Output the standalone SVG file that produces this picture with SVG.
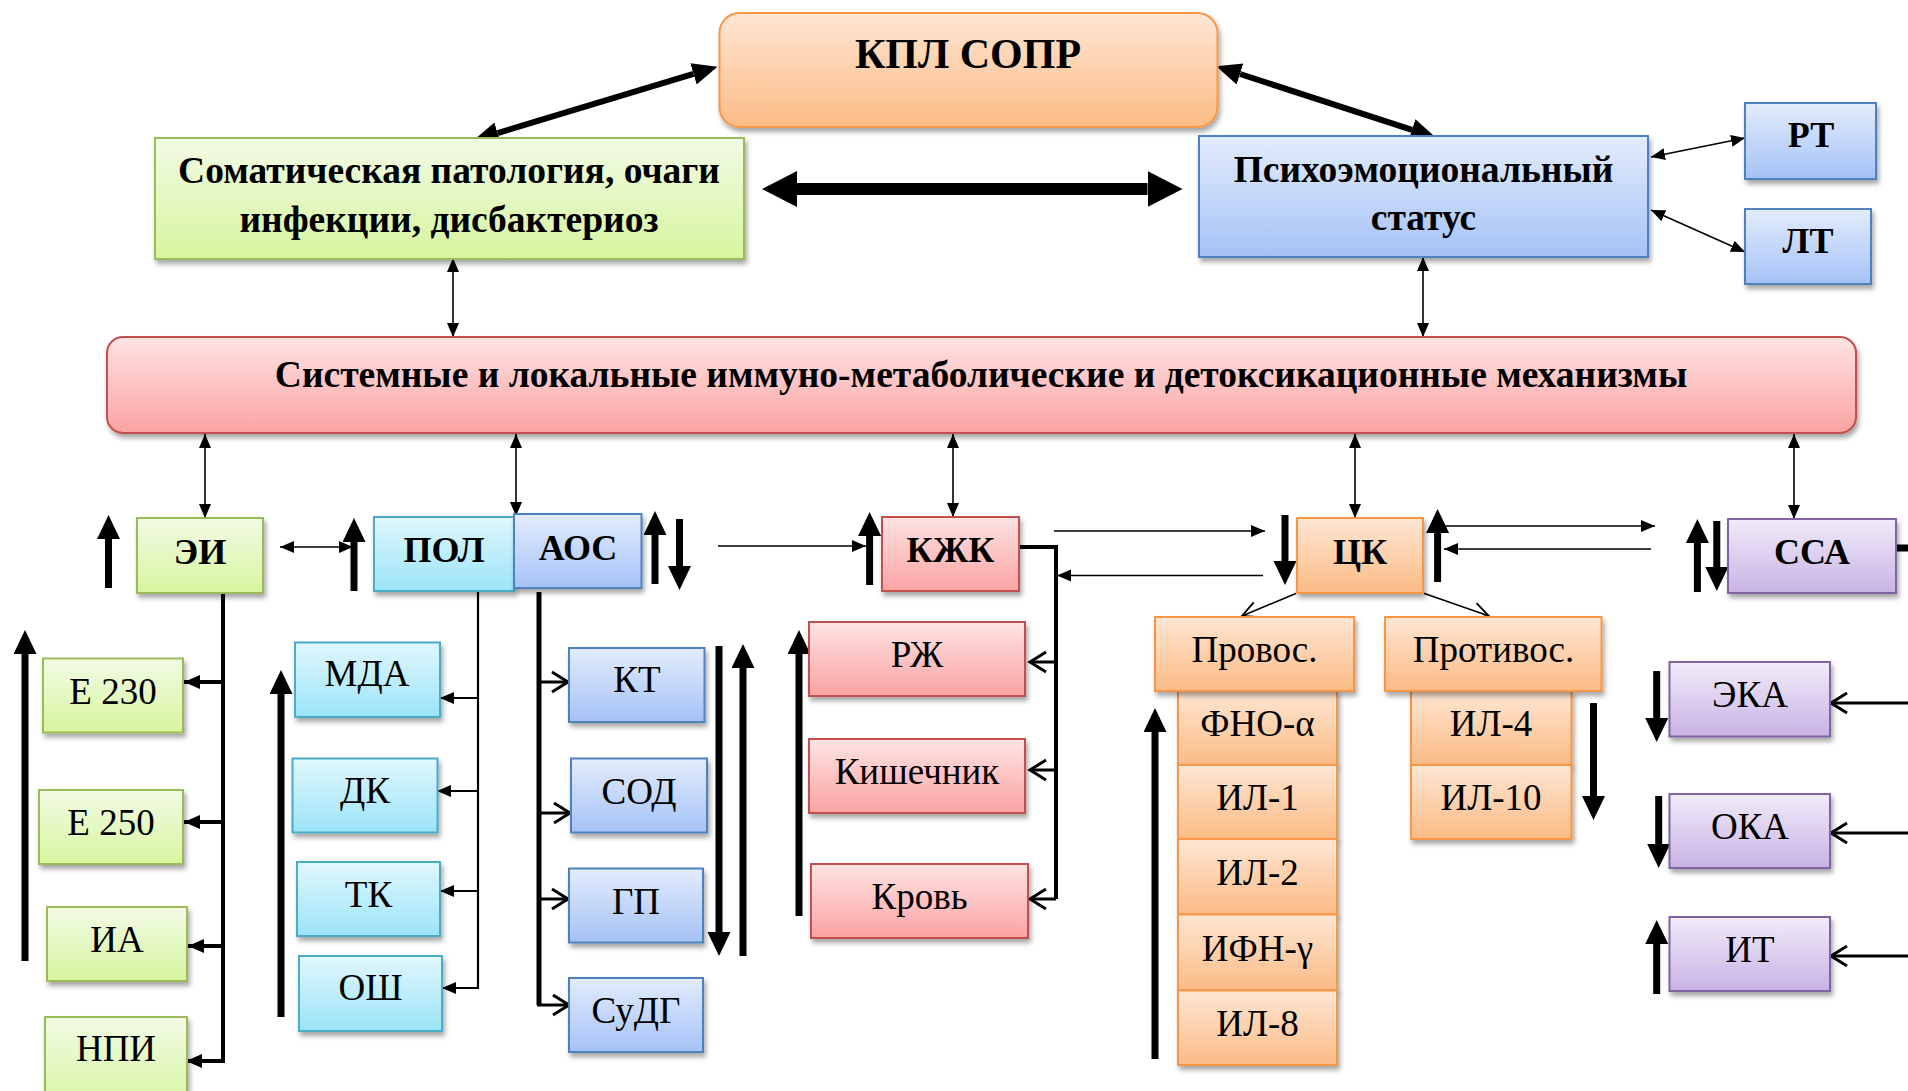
<svg xmlns="http://www.w3.org/2000/svg" width="1908" height="1091" viewBox="0 0 1908 1091">
<defs>
<linearGradient id="gOr" x1="0" y1="0" x2="0" y2="1"><stop offset="0" stop-color="#fee6d3"/><stop offset="1" stop-color="#fbbb85"/></linearGradient>
<linearGradient id="gGr" x1="0" y1="0" x2="0" y2="1"><stop offset="0" stop-color="#f2fbe5"/><stop offset="1" stop-color="#d7f59e"/></linearGradient>
<linearGradient id="gBl" x1="0" y1="0" x2="0" y2="1"><stop offset="0" stop-color="#e3ecfc"/><stop offset="1" stop-color="#a5c2f6"/></linearGradient>
<linearGradient id="gCy" x1="0" y1="0" x2="0" y2="1"><stop offset="0" stop-color="#e1f7fd"/><stop offset="1" stop-color="#9be4f8"/></linearGradient>
<linearGradient id="gRd" x1="0" y1="0" x2="0" y2="1"><stop offset="0" stop-color="#fee3e3"/><stop offset="1" stop-color="#fba3a3"/></linearGradient>
<linearGradient id="gPu" x1="0" y1="0" x2="0" y2="1"><stop offset="0" stop-color="#f1ebf9"/><stop offset="1" stop-color="#c8b3e5"/></linearGradient>
<filter id="sh" x="-10%" y="-10%" width="130%" height="140%"><feDropShadow dx="2" dy="4" stdDeviation="2.5" flood-color="#000" flood-opacity="0.35"/></filter>
<marker id="ah" markerUnits="userSpaceOnUse" markerWidth="16" markerHeight="14" refX="14" refY="6" orient="auto-start-reverse"><path d="M0,0 L14,6 L0,12 z" fill="#000"/></marker>
<marker id="ahm" markerUnits="userSpaceOnUse" markerWidth="18" markerHeight="16" refX="16" refY="7" orient="auto-start-reverse"><path d="M0,0 L16,7 L0,14 z" fill="#000"/></marker>
<marker id="chev" markerUnits="userSpaceOnUse" markerWidth="22" markerHeight="26" refX="18" refY="12" orient="auto-start-reverse"><path d="M2,2 L18,12 L2,22" fill="none" stroke="#000" stroke-width="3"/></marker>
<marker id="chevt" markerUnits="userSpaceOnUse" markerWidth="22" markerHeight="22" refX="18" refY="10" orient="auto-start-reverse"><path d="M2,2 L18,10 L2,18" fill="none" stroke="#000" stroke-width="1.8"/></marker>
<marker id="big" markerUnits="userSpaceOnUse" markerWidth="26" markerHeight="24" refX="0" refY="11.5" orient="auto-start-reverse"><path d="M0,0 L24,11.5 L0,23 z" fill="#000"/></marker>
<marker id="kpl" markerUnits="userSpaceOnUse" markerWidth="28" markerHeight="24" refX="0" refY="11" orient="auto-start-reverse"><path d="M0,0 L25,11 L0,22 z" fill="#000"/></marker>
<marker id="huge" markerUnits="userSpaceOnUse" markerWidth="38" markerHeight="38" refX="0" refY="18" orient="auto-start-reverse"><path d="M0,0 L35,18 L0,36 z" fill="#000"/></marker>
<style>
.or{fill:url(#gOr);stroke:#f79646;stroke-width:2}
.gr{fill:url(#gGr);stroke:#9bbb59;stroke-width:2}
.bl{fill:url(#gBl);stroke:#4f81bd;stroke-width:2}
.cy{fill:url(#gCy);stroke:#4bacc6;stroke-width:2}
.rd{fill:url(#gRd);stroke:#c0504d;stroke-width:2}
.pu{fill:url(#gPu);stroke:#8064a2;stroke-width:2}
.b{filter:url(#sh)}
text{font-family:"Liberation Serif","Times New Roman",serif;fill:#000;text-anchor:middle}
.tb{font-weight:bold;font-size:37.5px}
.ts{font-weight:bold;font-size:36px}
.tr{font-size:37px}
.thin{stroke:#000;stroke-width:1.6;fill:none}
.blk{stroke:#000;stroke-width:7;fill:none}
</style>
</defs>

<g id="connectors">
  <line x1="693.5" y1="73.9" x2="497.6" y2="133.1" stroke="#000" stroke-width="6" marker-start="url(#kpl)" marker-end="url(#kpl)"/>
  <line x1="1240" y1="74" x2="1412" y2="129.8" stroke="#000" stroke-width="6" marker-start="url(#kpl)" marker-end="url(#kpl)"/>
  <line x1="797" y1="189" x2="1147.5" y2="189" stroke="#000" stroke-width="12" marker-start="url(#huge)" marker-end="url(#huge)"/>
  <line class="thin" x1="453" y1="258" x2="453" y2="337" marker-start="url(#ah)" marker-end="url(#ah)"/>
  <line class="thin" x1="1423" y1="257" x2="1423" y2="337" marker-start="url(#ah)" marker-end="url(#ah)"/>
  <line class="thin" x1="1651" y1="157" x2="1745" y2="138" marker-start="url(#ah)" marker-end="url(#ah)"/>
  <line class="thin" x1="1651" y1="210" x2="1745" y2="252" marker-start="url(#ah)" marker-end="url(#ah)"/>
  <line class="thin" x1="205" y1="434" x2="205" y2="518" marker-start="url(#ah)" marker-end="url(#ah)"/>
  <line class="thin" x1="516" y1="434" x2="516" y2="516" marker-start="url(#ah)" marker-end="url(#ah)"/>
  <line class="thin" x1="953" y1="434" x2="953" y2="517" marker-start="url(#ah)" marker-end="url(#ah)"/>
  <line class="thin" x1="1355" y1="434" x2="1355" y2="518" marker-start="url(#ah)" marker-end="url(#ah)"/>
  <line class="thin" x1="1794" y1="434" x2="1794" y2="519" marker-start="url(#ah)" marker-end="url(#ah)"/>
  <line class="thin" x1="280" y1="547" x2="353" y2="547" marker-start="url(#ah)" marker-end="url(#ah)"/>
  <line class="thin" x1="718" y1="546" x2="866" y2="546" marker-end="url(#ah)"/>
  <line class="thin" x1="1054" y1="531" x2="1265" y2="531" marker-end="url(#ah)"/>
  <line class="thin" x1="1263" y1="575.5" x2="1057" y2="575.5" marker-end="url(#ah)"/>
  <line class="thin" x1="1444" y1="526" x2="1655" y2="526" marker-end="url(#ah)"/>
  <line class="thin" x1="1651" y1="549" x2="1444" y2="549" marker-end="url(#ah)"/>
  <line class="thin" x1="1297" y1="593" x2="1242" y2="616" marker-end="url(#chevt)"/>
  <line class="thin" x1="1423" y1="593" x2="1489" y2="616" marker-end="url(#chevt)"/>
  <!-- ЭИ tree -->
  <path d="M223,593 V1061" stroke="#000" stroke-width="4" fill="none"/>
  <line x1="223" y1="682" x2="184" y2="682" stroke="#000" stroke-width="4" marker-end="url(#ahm)"/>
  <line x1="223" y1="822" x2="184" y2="822" stroke="#000" stroke-width="4" marker-end="url(#ahm)"/>
  <line x1="223" y1="946" x2="188" y2="946" stroke="#000" stroke-width="4" marker-end="url(#ahm)"/>
  <line x1="225" y1="1061" x2="186" y2="1061" stroke="#000" stroke-width="4" marker-end="url(#ahm)"/>
  <!-- ПОЛ tree -->
  <path d="M478,591 V989" stroke="#000" stroke-width="2.2" fill="none"/>
  <line x1="478" y1="698" x2="440" y2="698" stroke="#000" stroke-width="2" marker-end="url(#ah)"/>
  <line x1="478" y1="791" x2="437" y2="791" stroke="#000" stroke-width="2" marker-end="url(#ah)"/>
  <line x1="478" y1="891" x2="440" y2="891" stroke="#000" stroke-width="2" marker-end="url(#ah)"/>
  <line x1="479" y1="988" x2="442" y2="988" stroke="#000" stroke-width="2" marker-end="url(#ah)"/>
  <!-- АОС tree -->
  <path d="M539,592 V1005" stroke="#000" stroke-width="5" fill="none"/>
  <line x1="539" y1="682" x2="568" y2="682" stroke="#000" stroke-width="3" marker-end="url(#chev)"/>
  <line x1="539" y1="813" x2="570" y2="813" stroke="#000" stroke-width="3" marker-end="url(#chev)"/>
  <line x1="539" y1="899" x2="568" y2="899" stroke="#000" stroke-width="3" marker-end="url(#chev)"/>
  <line x1="537" y1="1005" x2="569" y2="1005" stroke="#000" stroke-width="3" marker-end="url(#chev)"/>
  <!-- КЖК tree -->
  <path d="M1019,547 H1056 V899" stroke="#000" stroke-width="4" fill="none"/>
  <line x1="1056" y1="662" x2="1030" y2="662" stroke="#000" stroke-width="3" marker-end="url(#chev)"/>
  <line x1="1056" y1="770" x2="1030" y2="770" stroke="#000" stroke-width="3" marker-end="url(#chev)"/>
  <line x1="1056" y1="899" x2="1030" y2="899" stroke="#000" stroke-width="3" marker-end="url(#chev)"/>
  <!-- ССА side -->
  <line x1="1896" y1="548" x2="1908" y2="548" stroke="#000" stroke-width="7"/>
  <line x1="1908" y1="703" x2="1831" y2="703" stroke="#000" stroke-width="3" marker-end="url(#chev)"/>
  <line x1="1908" y1="833" x2="1831" y2="833" stroke="#000" stroke-width="3" marker-end="url(#chev)"/>
  <line x1="1908" y1="956" x2="1831" y2="956" stroke="#000" stroke-width="3" marker-end="url(#chev)"/>
  <!-- block up/down arrows -->
  <line class="blk" x1="108.5" y1="588" x2="108.5" y2="539" marker-end="url(#big)"/>
  <line class="blk" x1="354" y1="591" x2="354" y2="542" marker-end="url(#big)"/>
  <line class="blk" x1="655" y1="584" x2="655" y2="535" marker-end="url(#big)"/>
  <line class="blk" x1="679.5" y1="519" x2="679.5" y2="566" marker-end="url(#big)"/>
  <line class="blk" x1="25" y1="961" x2="25" y2="654" marker-end="url(#big)"/>
  <line class="blk" x1="281" y1="1017" x2="281" y2="694" marker-end="url(#big)"/>
  <line class="blk" x1="719" y1="646" x2="719" y2="932" marker-end="url(#big)"/>
  <line class="blk" x1="743" y1="956" x2="743" y2="668" marker-end="url(#big)"/>
  <line class="blk" x1="869.6" y1="585" x2="869.6" y2="536" marker-end="url(#big)"/>
  <line class="blk" x1="799" y1="916" x2="799" y2="654" marker-end="url(#big)"/>
  <line class="blk" x1="1285" y1="515" x2="1285" y2="561" marker-end="url(#big)"/>
  <line class="blk" x1="1437.6" y1="582" x2="1437.6" y2="533" marker-end="url(#big)"/>
  <line class="blk" x1="1155" y1="1059" x2="1155" y2="732" marker-end="url(#big)"/>
  <line class="blk" x1="1593.5" y1="703" x2="1593.5" y2="796" marker-end="url(#big)"/>
  <line class="blk" x1="1697.4" y1="592" x2="1697.4" y2="543" marker-end="url(#big)"/>
  <line class="blk" x1="1716.8" y1="521" x2="1716.8" y2="567" marker-end="url(#big)"/>
  <line class="blk" x1="1656.7" y1="671" x2="1656.7" y2="718" marker-end="url(#big)"/>
  <line class="blk" x1="1658.7" y1="796" x2="1658.7" y2="844" marker-end="url(#big)"/>
  <line class="blk" x1="1656.7" y1="994" x2="1656.7" y2="944" marker-end="url(#big)"/>
</g>

<g id="kpl_sopr"><rect class="or b" x="719.5" y="13" width="498" height="114" rx="20"/><text class="tb" style="font-size:42px" x="968" y="68">КПЛ СОПР</text></g>
<g id="somat"><rect class="gr b" x="155" y="138" width="589" height="121"/><text class="tb" x="449" y="183">Соматическая патология, очаги</text><text class="tb" x="449" y="232">инфекции, дисбактериоз</text></g>
<g id="psycho"><rect class="bl b" x="1199" y="136" width="449" height="121"/><text class="tb" x="1423.5" y="182">Психоэмоциональный</text><text class="tb" x="1423.5" y="230">статус</text></g>
<g id="rt"><rect class="bl b" x="1745" y="103" width="131" height="76"/><text class="ts" x="1811" y="147">РТ</text></g>
<g id="lt"><rect class="bl b" x="1745" y="209" width="126" height="75"/><text class="ts" x="1808" y="253">ЛТ</text></g>
<g id="system"><rect class="rd b" x="107" y="337" width="1749" height="96" rx="16"/><text class="tb" x="981" y="387">Системные и локальные иммуно-метаболические и детоксикационные механизмы</text></g>

<g id="ei"><rect class="gr b" x="137" y="518" width="126" height="75"/><text class="ts" x="200" y="564">ЭИ</text></g>
<g id="pol"><rect class="cy b" x="374" y="517" width="140" height="74"/><text class="ts" x="444" y="562">ПОЛ</text></g>
<g id="aos"><rect class="bl b" x="514" y="514" width="127.5" height="74"/><text class="ts" x="578" y="560">АОС</text></g>
<g id="kzhk"><rect class="rd b" x="882" y="517" width="137" height="74"/><text class="ts" x="950.5" y="562">КЖК</text></g>
<g id="ck"><rect class="or b" x="1297" y="518" width="126" height="75"/><text class="ts" x="1360" y="564">ЦК</text></g>
<g id="ssa"><rect class="pu b" x="1728" y="519" width="168" height="74"/><text class="ts" x="1812" y="564">ССА</text></g>

<g id="e230"><rect class="gr b" x="43" y="658.5" width="140" height="74"/><text class="tr" x="113" y="704">Е 230</text></g>
<g id="e250"><rect class="gr b" x="39" y="790" width="144" height="74"/><text class="tr" x="111" y="835">Е 250</text></g>
<g id="ia"><rect class="gr b" x="47" y="907" width="140" height="74"/><text class="tr" x="117" y="952">ИА</text></g>
<g id="npi"><rect class="gr b" x="45" y="1017" width="142" height="90"/><text class="tr" x="116" y="1061">НПИ</text></g>

<g id="mda"><rect class="cy b" x="295" y="642.5" width="145" height="74.5"/><text class="tr" x="367" y="686">МДА</text></g>
<g id="dk"><rect class="cy b" x="292.5" y="758.5" width="145" height="74"/><text class="tr" x="365" y="803">ДК</text></g>
<g id="tk"><rect class="cy b" x="297" y="862" width="143" height="74"/><text class="tr" x="368.5" y="907">ТК</text></g>
<g id="osh"><rect class="cy b" x="299" y="956" width="143" height="75"/><text class="tr" x="370.5" y="1000">ОШ</text></g>

<g id="kt"><rect class="bl b" x="569" y="648" width="135.5" height="74"/><text class="tr" x="637" y="692">КТ</text></g>
<g id="sod"><rect class="bl b" x="571" y="758.5" width="136" height="74"/><text class="tr" x="639" y="804">СОД</text></g>
<g id="gp"><rect class="bl b" x="569" y="868.5" width="134" height="74"/><text class="tr" x="636" y="914">ГП</text></g>
<g id="sudg"><rect class="bl b" x="569" y="978" width="134" height="74"/><text class="tr" x="636" y="1023">СуДГ</text></g>

<g id="rzh"><rect class="rd b" x="809" y="622" width="216" height="74"/><text class="tr" x="917" y="667">РЖ</text></g>
<g id="kish"><rect class="rd b" x="809" y="739" width="216" height="74"/><text class="tr" x="917" y="784">Кишечник</text></g>
<g id="krov"><rect class="rd b" x="811" y="864" width="217" height="74"/><text class="tr" x="919.5" y="909">Кровь</text></g>

<g id="fno"><rect class="or b" x="1178" y="691" width="159" height="74"/><text class="tr" x="1257.5" y="736">ФНО-α</text></g>
<g id="il1"><rect class="or b" x="1178" y="765" width="159" height="74"/><text class="tr" x="1257.5" y="810">ИЛ-1</text></g>
<g id="il2"><rect class="or b" x="1178" y="839" width="159" height="75.5"/><text class="tr" x="1257.5" y="885">ИЛ-2</text></g>
<g id="ifn"><rect class="or b" x="1178" y="914.5" width="159" height="76"/><text class="tr" x="1257.5" y="961">ИФН-γ</text></g>
<g id="il8"><rect class="or b" x="1178" y="990.5" width="159" height="74.5"/><text class="tr" x="1257.5" y="1036">ИЛ-8</text></g>
<g id="provos"><rect class="or b" x="1155" y="617" width="199" height="74"/><text class="tr" x="1254.5" y="662">Провос.</text></g>

<g id="il4"><rect class="or b" x="1411" y="691" width="160.5" height="74"/><text class="tr" x="1491" y="736">ИЛ-4</text></g>
<g id="il10"><rect class="or b" x="1411" y="765" width="160.5" height="74"/><text class="tr" x="1491" y="810">ИЛ-10</text></g>
<g id="protivos"><rect class="or b" x="1385" y="617" width="216.5" height="74"/><text class="tr" x="1493.5" y="662">Противос.</text></g>

<g id="eka"><rect class="pu b" x="1669.5" y="662" width="160.5" height="74.5"/><text class="tr" x="1750" y="707">ЭКА</text></g>
<g id="oka"><rect class="pu b" x="1669.5" y="794" width="160.5" height="74"/><text class="tr" x="1750" y="839">ОКА</text></g>
<g id="it"><rect class="pu b" x="1669.5" y="917" width="160.5" height="74"/><text class="tr" x="1750" y="962">ИТ</text></g>
</svg>
